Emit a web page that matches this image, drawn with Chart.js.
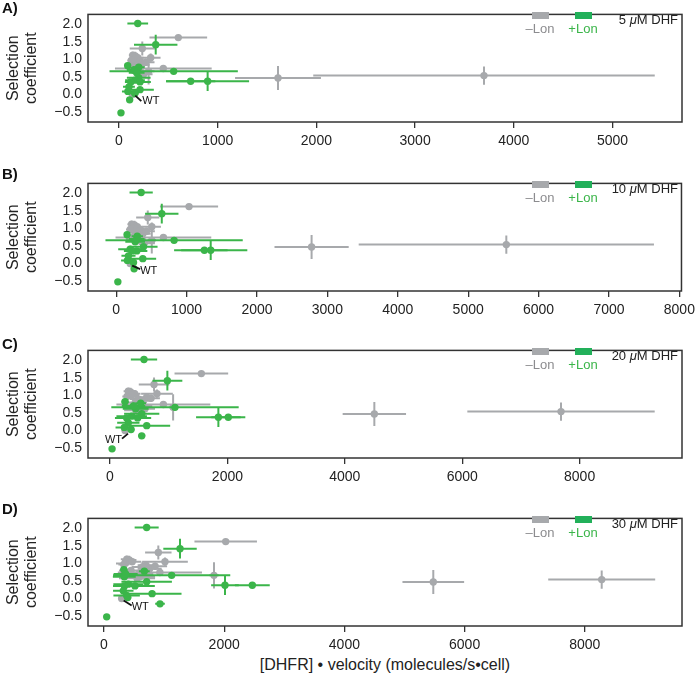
<!DOCTYPE html>
<html>
<head>
<meta charset="utf-8">
<script src="https://cdn.jsdelivr.net/npm/chart.js@4.4.0/dist/chart.umd.min.js"></script>
<style>
  body { margin: 0; background: #fff; font-family: "Liberation Sans", Arial, Helvetica, sans-serif; }
  #wrap { position: relative; width: 700px; height: 681px; overflow: hidden; }
  canvas { position: absolute; left: 0; }
  .lbl { position: absolute; left: 2px; font-weight: bold; font-size: 15px; line-height: 15px; color: #111; }
  .key { position: absolute; width: 17px; height: 7px; }
  .keytxt { position: absolute; width: 44px; text-align: center; font-size: 13px; line-height: 13px; }
  .dhf { position: absolute; right: 22px; font-size: 13px; line-height: 13px; color: #222; white-space: nowrap; }
  #xtitle { position: absolute; left: 135px; width: 500px; top: 657px; text-align: center; font-size: 16px; line-height: 16px; color: #222; }
</style>
</head>
<body>
<div id="wrap">
  <div id="xtitle">[DHFR] • velocity (molecules/s•cell)</div>
</div>
<script>
// selection coefficients are shared by all four panels, only x moves with [DHF]
// +Lon (green)
const plusY      = [2.02, 1.42, 0.66, 0.38, 0.38, -0.52, -0.15, 0.82, 0.78, 0.14, 0.48, 0.41, 0.36, 0.36, 0.22, 0.09, 0.03, 0.62, 0.70];
const plusYErr   = [0.07, 0.28, 0.05, 0.05, 0.28, 0.08, 0.07, 0.07, 0.06, 0.05, 0.06, 0.07, 0.06, 0.06, 0.06, 0.05, 0.05, 0.08, 0.10];
const plusX5     = [190, 372, 554, 726, 898, 20, 108, 88, 200, 213, 200, 162, 213, 120, 101, 90, 160, 179, 150];
const plusXErr5  = [105, 220, 650, 250, 420, 20, 25, 25, 60, 140, 120, 100, 110, 60, 60, 60, 40, 80, 70];
const plusX10    = [355, 648, 823, 1253, 1343, 24, 255, 155, 300, 378, 388, 199, 293, 230, 175, 160, 246, 270, 293];
const plusXErr10 = [165, 237, 975, 330, 520, 25, 40, 30, 80, 190, 200, 170, 150, 120, 100, 90, 50, 140, 110];
const plusX20    = [579, 977, 1107, 2015, 1846, 35, 540, 256, 523, 625, 540, 369, 471, 284, 312, 244, 358, 437, 400];
const plusXErr20 = [224, 255, 1085, 290, 380, 30, 60, 60, 90, 400, 300, 260, 230, 200, 190, 150, 60, 220, 200];
const plusX30    = [710, 1265, 1126, 2468, 2013, 45, 932, 330, 671, 800, 710, 405, 516, 340, 321, 377, 394, 338, 360];
const plusXErr30 = [200, 278, 975, 290, 230, 30, 80, 60, 90, 490, 420, 250, 330, 190, 170, 220, 60, 190, 200];

// -Lon (gray); index 7 is WT
const minusY      = [1.62, 1.31, 1.05, 0.74, 0.47, 0.54, 0.66, 0.00, 1.12, 1.10, 1.05, 1.00, 0.95, 0.90, 0.85, 0.80, 0.70, 0.62, 0.58, 0.92, 0.97];
const minusYErr   = [0.05, 0.20, 0.12, 0.05, 0.34, 0.26, 0.37, 0.05, 0.10, 0.12, 0.10, 0.12, 0.10, 0.15, 0.12, 0.10, 0.12, 0.10, 0.08, 0.10, 0.08];
const minusX5     = [601, 236, 321, 449, 1611, 3698, 300, 135, 140, 165, 190, 155, 210, 180, 230, 140, 170, 210, 250, 270, 125];
const minusXErr5  = [292, 127, 100, 490, 435, 1730, 60, 20, 40, 50, 60, 60, 70, 50, 80, 60, 80, 80, 90, 90, 40];
const minusX10    = [1035, 449, 506, 671, 2776, 5542, 506, 199, 220, 260, 300, 240, 350, 320, 380, 260, 280, 360, 400, 430, 200];
const minusXErr10 = [413, 165, 130, 680, 527, 2097, 60, 25, 60, 70, 80, 70, 90, 90, 110, 120, 140, 120, 150, 120, 60];
const minusX20    = [1556, 750, 800, 909, 4503, 7683, 1075, 256, 312, 350, 420, 369, 625, 480, 540, 430, 470, 596, 440, 700, 290];
const minusXErr20 = [457, 260, 270, 800, 540, 1596, 60, 30, 80, 90, 100, 110, 120, 140, 150, 200, 250, 170, 200, 150, 80];
const minusX30    = [2025, 904, 1015, 930, 5479, 8281, 1830, 294, 380, 420, 470, 350, 700, 640, 760, 450, 580, 600, 550, 850, 330];
const minusXErr30 = [520, 220, 380, 700, 513, 890, 80, 30, 100, 120, 150, 150, 140, 180, 200, 200, 240, 250, 300, 200, 90];
const WT_INDEX = 7;

const yTicks = [-0.5, 0, 0.5, 1.0, 1.5, 2.0];
const xTicks5 = [0, 1000, 2000, 3000, 4000, 5000];
const xTicks10 = [0, 1000, 2000, 3000, 4000, 5000, 6000, 7000, 8000];
const xTicks20 = [0, 2000, 4000, 6000, 8000];
const xTicks30 = [0, 2000, 4000, 6000, 8000];

const GRAY = '#a7a9ac';
const GREEN = '#3bb54a';
const FONT = '"Liberation Sans", Arial, Helvetica, sans-serif';

const panels = [
  { label: 'A)', dhf: '5', top: 0, labelTop: 0, xMin: -314, xMax: 5704, ticks: xTicks5,
    plusX: plusX5, plusXErr: plusXErr5, minusX: minusX5, minusXErr: minusXErr5,
    wt: { x0: 3, y0: 1, x1: 9, y1: 6.5, tx: 10, ty: 6.5, align: 'left' } },
  { label: 'B)', dhf: '10', top: 169, labelTop: 166, xMin: -400, xMax: 8030, ticks: xTicks10,
    plusX: plusX10, plusXErr: plusXErr10, minusX: minusX10, minusXErr: minusXErr10,
    wt: { x0: 2, y0: 2, x1: 10, y1: 5.5, tx: 10, ty: 7, align: 'left' } },
  { label: 'C)', dhf: '20', top: 336, labelTop: 336, xMin: -375, xMax: 9744, ticks: xTicks20,
    plusX: plusX20, plusXErr: plusXErr20, minusX: minusX20, minusXErr: minusXErr20,
    wt: { x0: 3, y0: 3, x1: -3, y1: 8, tx: -3, ty: 9, align: 'right' } },
  { label: 'D)', dhf: '30', top: 504, labelTop: 501, xMin: -266, xMax: 9617, ticks: xTicks30,
    plusX: plusX30, plusXErr: plusXErr30, minusX: minusX30, minusXErr: minusXErr30,
    wt: { x0: 2, y0: 2, x1: 10, y1: 7, tx: 10, ty: 8, align: 'left' } }
];

function points(xs, xes, ys, yes) {
  return xs.map((x, i) => ({ x: x, y: ys[i], xe: xes[i], ye: yes[i] }));
}

const errorBars = {
  id: 'errorBars',
  beforeDatasetDraw(chart, args) {
    const ds = chart.data.datasets[args.index];
    const sx = chart.scales.x, sy = chart.scales.y, a = chart.chartArea;
    const ctx = chart.ctx;
    ctx.save();
    ctx.beginPath();
    ctx.rect(a.left, a.top, a.right - a.left, a.bottom - a.top);
    ctx.clip();
    ctx.strokeStyle = ds.backgroundColor;
    ctx.lineWidth = 2;
    ds.data.forEach(p => {
      const px = sx.getPixelForValue(p.x), py = sy.getPixelForValue(p.y);
      ctx.beginPath();
      ctx.moveTo(sx.getPixelForValue(p.x - p.xe), py);
      ctx.lineTo(sx.getPixelForValue(p.x + p.xe), py);
      ctx.moveTo(px, sy.getPixelForValue(p.y - p.ye));
      ctx.lineTo(px, sy.getPixelForValue(p.y + p.ye));
      ctx.stroke();
    });
    ctx.restore();
  }
};

const frameAndWt = {
  id: 'frameAndWt',
  afterDraw(chart, args, opts) {
    const { ctx, chartArea: a } = chart;
    ctx.save();
    ctx.strokeStyle = '#333';
    ctx.lineWidth = 1.5;
    ctx.strokeRect(a.left, a.top, a.right - a.left, a.bottom - a.top);

    const w = opts.wt;
    const px = chart.scales.x.getPixelForValue(opts.wtX);
    const py = chart.scales.y.getPixelForValue(opts.wtY);
    ctx.strokeStyle = '#111';
    ctx.lineWidth = 1.8;
    ctx.beginPath();
    ctx.moveTo(px + w.x0, py + w.y0);
    ctx.lineTo(px + w.x1, py + w.y1);
    ctx.stroke();
    ctx.fillStyle = '#111';
    ctx.font = '11px ' + FONT;
    ctx.textAlign = w.align;
    ctx.textBaseline = 'middle';
    ctx.fillText('WT', px + w.tx, py + w.ty);
    ctx.restore();
  }
};

function addPanel(p) {
  const wrap = document.getElementById('wrap');
  const canvas = document.createElement('canvas');
  canvas.width = 700;
  canvas.height = 152;
  canvas.style.top = p.top + 'px';
  wrap.appendChild(canvas);

  const T = p.top + 8;
  const html = [
    `<div class="lbl" style="top:${p.labelTop}px">${p.label}</div>`,
    `<div class="key" style="left:532px;top:${T + 4}px;background:${GRAY}"></div>`,
    `<div class="key" style="left:575px;top:${T + 4}px;background:#22b05a"></div>`,
    `<div class="keytxt" style="left:518px;top:${T + 14}px;color:#8c8c8f">–Lon</div>`,
    `<div class="keytxt" style="left:561px;top:${T + 14}px;color:${GREEN}">+Lon</div>`,
    `<div class="dhf" style="top:${T + 5}px">${p.dhf} <i>μ</i>M DHF</div>`
  ].join('');
  wrap.insertAdjacentHTML('beforeend', html);

  new Chart(canvas, {
    type: 'scatter',
    data: {
      datasets: [
        { label: '+Lon', data: points(p.plusX, p.plusXErr, plusY, plusYErr),
          backgroundColor: GREEN, borderWidth: 0, pointRadius: 3.7 },
        { label: '–Lon', data: points(p.minusX, p.minusXErr, minusY, minusYErr),
          backgroundColor: GRAY, borderWidth: 0, pointRadius: 3.7 }
      ]
    },
    options: {
      responsive: false,
      animation: false,
      events: [],
      layout: { padding: { left: 0, right: 18, top: 8, bottom: 0 } },
      plugins: {
        legend: { display: false },
        tooltip: { enabled: false },
        frameAndWt: { wt: p.wt, wtX: p.minusX[WT_INDEX], wtY: minusY[WT_INDEX] }
      },
      scales: {
        x: {
          type: 'linear', min: p.xMin, max: p.xMax,
          afterBuildTicks: s => { s.ticks = p.ticks.map(v => ({ value: v })); },
          afterFit: s => { s.height = 30; },
          grid: { display: true, drawOnChartArea: false, drawTicks: true, tickLength: 6, color: '#333', lineWidth: 1.3 },
          border: { display: false },
          ticks: { color: '#222', font: { size: 14, family: FONT }, padding: 5, maxRotation: 0, autoSkip: false,
                   callback: v => String(v) }
        },
        y: {
          min: -0.78, max: 2.28,
          afterBuildTicks: s => { s.ticks = yTicks.map(v => ({ value: v })); },
          afterFit: s => { s.width = 88; },
          grid: { display: false, drawTicks: false },
          border: { display: false },
          ticks: { color: '#222', font: { size: 14, family: FONT }, padding: 6,
                   callback: v => v.toFixed(1).replace('-', '\u2212') },
          title: { display: true, text: ['Selection', 'coefficient'], color: '#222',
                   font: { size: 16, family: FONT, lineHeight: 1.12 }, padding: { top: 5, bottom: 0 } }
        }
      }
    },
    plugins: [errorBars, frameAndWt]
  });
}

panels.forEach(addPanel);
</script>
</body>
</html>
